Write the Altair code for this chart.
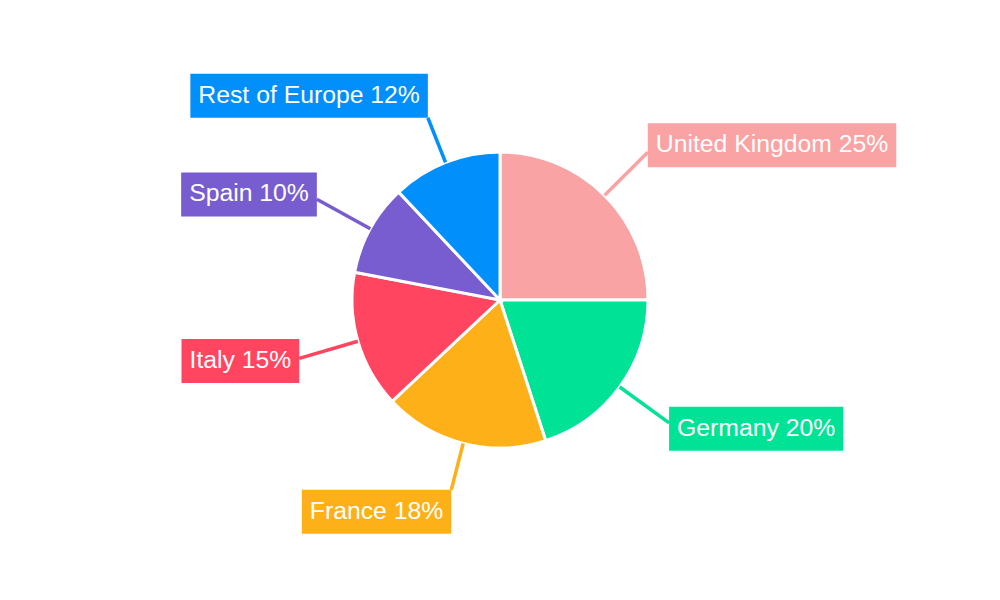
import altair as alt
import pandas as pd

# market share by country
countries = ["United Kingdom", "Germany", "France", "Italy", "Spain", "Rest of Europe"]
shares = [25, 20, 18, 15, 10, 12]
colors = ["#F9A3A4", "#00E396", "#FEB019", "#FF4560", "#775DD0", "#008FFB"]

W, H = 984, 584
CX, CY = W / 2, H / 2
R_PIE = 148
R_SIDE = 209   # leader length for labels on the left / right
R_TOPBOT = 196  # leader length for labels above / below
FONT = 24.75
PAD = 8
BOX_H = 44

# rough Arial / Liberation Sans advance widths (per 1000 em)
char_w = {" ": 278, "%": 889, "R": 722, "e": 556, "s": 500, "t": 278, "o": 556,
          "f": 278, "E": 667, "u": 556, "r": 333, "p": 556, "S": 667, "a": 556,
          "i": 222, "n": 556, "I": 278, "l": 222, "y": 500, "F": 611, "c": 500,
          "G": 778, "m": 833, "U": 722, "d": 556, "K": 667, "g": 556}


def text_width(s):
    return sum(556 if ch.isdigit() else char_w.get(ch, 556) for ch in s) * FONT / 1000


df = pd.DataFrame({"country": countries, "share": shares})
df["idx"] = range(len(df))
df["label"] = [f"{c} {v}%" for c, v in zip(countries, shares)]
df["bw"] = [text_width(t) + 2 * PAD for t in df["label"]]

color = alt.Color("country:N", scale=alt.Scale(domain=countries, range=colors), legend=None)

base = alt.Chart(df).transform_joinaggregate(
    total="sum(share)"
).transform_window(
    cum="sum(share)", sort=[alt.SortField("idx")], frame=[None, 0]
).transform_calculate(
    mid="(datum.cum - datum.share / 2) / datum.total * 2 * PI",
).transform_calculate(
    vert="abs(cos(datum.mid)) > 0.9",
).transform_calculate(
    rl=f"datum.vert ? {R_TOPBOT} : {R_SIDE}",
).transform_calculate(
    sx=f"{CX} + {R_PIE} * sin(datum.mid)",
    sy=f"{CY} - {R_PIE} * cos(datum.mid)",
    ex=f"{CX} + datum.rl * sin(datum.mid)",
    ey=f"{CY} - datum.rl * cos(datum.mid)",
).transform_calculate(
    bx1="sin(datum.mid) >= 0 ? datum.ex : datum.ex - datum.bw",
    by1=(f"cos(datum.mid) < -0.9 ? datum.ey : (cos(datum.mid) > 0.9 ? datum.ey - {BOX_H} "
         f": datum.ey - {BOX_H / 2} - 10 * cos(datum.mid))"),
).transform_calculate(
    bx2="datum.bx1 + datum.bw",
    by2=f"datum.by1 + {BOX_H}",
    tx=f"datum.bx1 + {PAD}",
    ty=f"datum.by1 + {BOX_H / 2}",
)

pie = alt.Chart(df).mark_arc(outerRadius=R_PIE, stroke="white", strokeWidth=3).encode(
    theta=alt.Theta("share:Q", stack=True),
    order=alt.Order("idx:Q"),
    color=color,
)

lines = base.mark_rule(strokeWidth=3.5).encode(
    x=alt.X("sx:Q", scale=None), y=alt.Y("sy:Q", scale=None),
    x2="ex:Q", y2="ey:Q",
    color=color,
)

boxes = base.mark_rect().encode(
    x=alt.X("bx1:Q", scale=None), y=alt.Y("by1:Q", scale=None),
    x2="bx2:Q", y2="by2:Q",
    color=color,
)

labels = base.mark_text(align="left", baseline="middle", font="Liberation Sans",
                        fontSize=FONT, color="white").encode(
    x=alt.X("tx:Q", scale=None), y=alt.Y("ty:Q", scale=None),
    text="label:N",
)

chart = alt.layer(pie, lines, boxes, labels).properties(
    width=W, height=H, padding=0, autosize="none"
).configure_view(stroke=None)

chart.save("out.html", embed_options={"renderer": "svg", "actions": False})
